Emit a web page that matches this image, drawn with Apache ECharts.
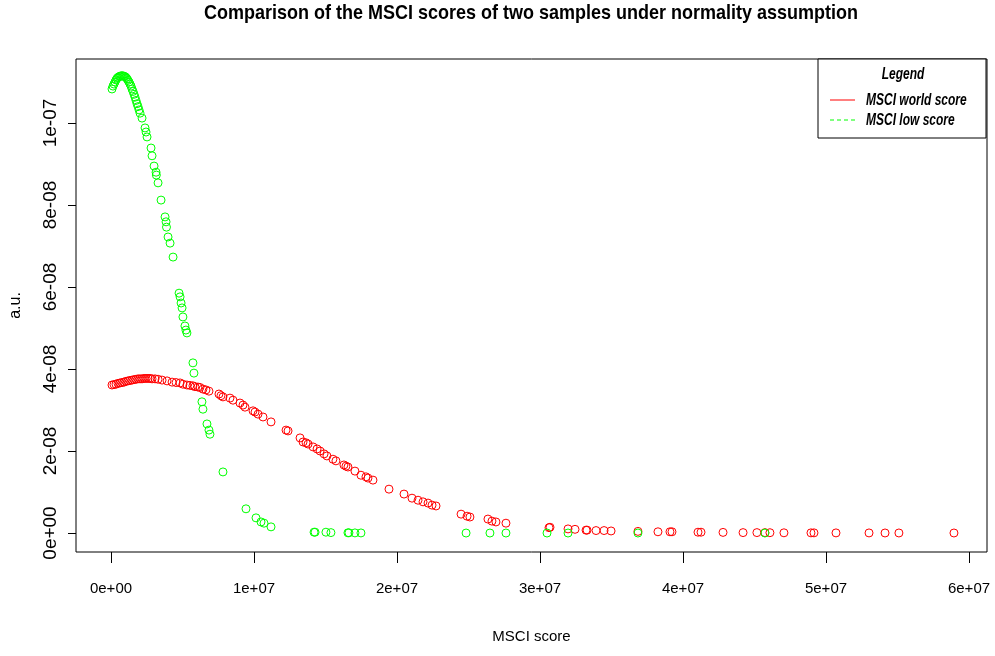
<!DOCTYPE html>
<html><head><meta charset="utf-8">
<script src="https://cdn.jsdelivr.net/npm/echarts@6/dist/echarts.min.js"></script>
<style>html,body{margin:0;padding:0;background:#fff}#c{width:995px;height:656px}</style>
</head><body><div id="c"></div>
<script>
// ---- data ----
const worldScoreX = [0.07e6,0.21e6,0.35e6,0.49e6,0.63e6,0.77e6,0.91e6,1.05e6,1.19e6,1.33e6,1.47e6,1.61e6,1.75e6,1.89e6,2.03e6,2.17e6,2.31e6,2.45e6,2.59e6,2.73e6,2.87e6,3.08e6,3.29e6,3.57e6,3.92e6,4.27e6,4.55e6,4.83e6,5.03e6,5.31e6,5.52e6,5.73e6,5.87e6,6.08e6,6.22e6,6.43e6,6.64e6,6.85e6,7.55e6,7.69e6,7.83e6,8.32e6,8.53e6,9.02e6,9.23e6,9.37e6,9.93e6,10.07e6,10.28e6,10.63e6,11.19e6,12.24e6,12.38e6,13.22e6,13.43e6,13.64e6,13.78e6,14.13e6,14.41e6,14.62e6,14.90e6,15.10e6,15.52e6,15.73e6,16.29e6,16.43e6,16.57e6,17.06e6,17.48e6,17.83e6,17.97e6,18.32e6,19.44e6,20.49e6,21.05e6,21.47e6,21.82e6,22.17e6,22.45e6,22.73e6,24.48e6,24.90e6,25.10e6,26.36e6,26.64e6,26.92e6,27.62e6,30.63e6,30.70e6,31.96e6,32.45e6,33.22e6,33.29e6,33.92e6,34.48e6,34.97e6,36.85e6,38.25e6,39.09e6,39.23e6,41.05e6,41.26e6,42.80e6,44.20e6,45.17e6,45.73e6,46.08e6,47.06e6,48.95e6,49.16e6,50.70e6,53.01e6,54.13e6,55.10e6,58.95e6];
const worldDensity = [3.61e-8,3.62e-8,3.63e-8,3.65e-8,3.66e-8,3.67e-8,3.68e-8,3.70e-8,3.71e-8,3.72e-8,3.73e-8,3.74e-8,3.75e-8,3.76e-8,3.76e-8,3.76e-8,3.77e-8,3.77e-8,3.77e-8,3.77e-8,3.76e-8,3.76e-8,3.75e-8,3.73e-8,3.71e-8,3.68e-8,3.67e-8,3.66e-8,3.63e-8,3.61e-8,3.60e-8,3.59e-8,3.57e-8,3.56e-8,3.55e-8,3.51e-8,3.49e-8,3.46e-8,3.39e-8,3.35e-8,3.32e-8,3.29e-8,3.24e-8,3.17e-8,3.12e-8,3.07e-8,2.98e-8,2.95e-8,2.90e-8,2.83e-8,2.71e-8,2.51e-8,2.49e-8,2.32e-8,2.22e-8,2.20e-8,2.17e-8,2.10e-8,2.05e-8,2.00e-8,1.93e-8,1.88e-8,1.80e-8,1.76e-8,1.66e-8,1.63e-8,1.61e-8,1.51e-8,1.41e-8,1.37e-8,1.34e-8,1.29e-8,1.07e-8,0.95e-8,0.85e-8,0.80e-8,0.76e-8,0.73e-8,0.68e-8,0.66e-8,0.46e-8,0.41e-8,0.39e-8,0.34e-8,0.29e-8,0.27e-8,0.24e-8,0.13e-8,0.14e-8,0.10e-8,0.09e-8,0.07e-8,0.07e-8,0.06e-8,0.06e-8,0.05e-8,0.04e-8,0.03e-8,0.03e-8,0.03e-8,0.02e-8,0.02e-8,0.015e-8,0.01e-8,0.01e-8,0.01e-8,0.008e-8,0.005e-8,0.004e-8,0.004e-8,0.003e-8,0.002e-8,0.001e-8,0.001e-8,0.0005e-8];
const lowScoreX = [0.07e6,0.14e6,0.21e6,0.28e6,0.35e6,0.42e6,0.49e6,0.56e6,0.63e6,0.70e6,0.77e6,0.84e6,0.91e6,0.98e6,1.05e6,1.12e6,1.19e6,1.26e6,1.33e6,1.40e6,1.47e6,1.54e6,1.61e6,1.68e6,1.75e6,1.82e6,1.89e6,1.96e6,2.03e6,2.17e6,2.38e6,2.45e6,2.52e6,2.80e6,2.87e6,3.01e6,3.15e6,3.17e6,3.29e6,3.50e6,3.78e6,3.85e6,3.88e6,3.99e6,4.13e6,4.34e6,4.76e6,4.83e6,4.90e6,4.97e6,5.03e6,5.17e6,5.24e6,5.31e6,5.73e6,5.80e6,6.36e6,6.43e6,6.71e6,6.85e6,6.92e6,7.83e6,9.44e6,10.14e6,10.49e6,10.70e6,11.19e6,14.20e6,14.27e6,15.03e6,15.38e6,16.57e6,16.64e6,17.06e6,17.48e6,24.83e6,26.50e6,27.62e6,30.49e6,31.96e6,36.85e6,45.73e6];
const lowDensity = [10.83e-8,10.90e-8,10.95e-8,11.00e-8,11.05e-8,11.09e-8,11.11e-8,11.13e-8,11.14e-8,11.15e-8,11.15e-8,11.15e-8,11.14e-8,11.13e-8,11.11e-8,11.08e-8,11.04e-8,11.00e-8,10.95e-8,10.90e-8,10.83e-8,10.77e-8,10.70e-8,10.63e-8,10.55e-8,10.47e-8,10.40e-8,10.32e-8,10.24e-8,10.12e-8,9.88e-8,9.78e-8,9.66e-8,9.39e-8,9.20e-8,8.95e-8,8.80e-8,8.73e-8,8.54e-8,8.12e-8,7.71e-8,7.59e-8,7.46e-8,7.22e-8,7.07e-8,6.73e-8,5.85e-8,5.76e-8,5.61e-8,5.49e-8,5.27e-8,5.05e-8,4.95e-8,4.88e-8,4.15e-8,3.90e-8,3.20e-8,3.02e-8,2.66e-8,2.51e-8,2.41e-8,1.49e-8,0.59e-8,0.37e-8,0.27e-8,0.24e-8,0.15e-8,0.02e-8,0.02e-8,0.02e-8,0.01e-8,0.005e-8,0.005e-8,0.003e-8,0.002e-8,0,0,0,0,0,0,0];
const xTickLabels = ['0e+00','1e+07','2e+07','3e+07','4e+07','5e+07','6e+07'];
const yTickLabels = ['0e+00','2e-08','4e-08','6e-08','8e-08','1e-07'];
const seriesNames = ['MSCI world score','MSCI low score'];
const titleText = 'Comparison of the MSCI scores of two samples under normality assumption';

const zip = (a, b) => a.map((v, i) => [v, b[i]]);
const sans = '"Liberation Sans",Arial,sans-serif';
const chart = echarts.init(document.getElementById('c'), null, {renderer: 'canvas'});
const circle = (color) => ({
  type: 'scatter', symbol: 'circle', symbolSize: 8,
  itemStyle: {color: 'rgba(0,0,0,0)', borderColor: color, borderWidth: 1, opacity: 1},
  emphasis: {disabled: true}, silent: true, animation: false, xAxisIndex: 0, yAxisIndex: 0
});
const hiddenAxis = (grid, extra) => Object.assign({gridIndex: grid, type: 'value', show: false, min: 0, max: 1}, extra || {});
const stretchedText = (text, x, y, align, font, sy) => ({
  type: 'text', z: 11, x: x, y: y, scaleY: sy, originX: 0, originY: 0,
  style: {text: text, x: 0, y: 0, align: align, verticalAlign: 'middle', font: font, fill: '#000'}
});
chart.setOption({
  animation: false,
  backgroundColor: '#fff',
  grid: [
    {left: 76, right: 8, top: 59, bottom: 104, show: true, borderColor: '#000', borderWidth: 1, backgroundColor: 'transparent', outerBoundsMode: 'none'},
    {left: 111, right: 26, top: 59, bottom: 104, show: false, outerBoundsMode: 'none'},
    {left: 76, right: 8, top: 123, bottom: 123, show: false, outerBoundsMode: 'none'}
  ],
  xAxis: [
    {gridIndex: 0, type: 'value', min: -2.448e6, max: 6.126e7, axisLine: {show: false}, axisTick: {show: false}, axisLabel: {show: false}, splitLine: {show: false},
      name: 'MSCI score', nameLocation: 'middle', nameGap: 77, nameTextStyle: {fontFamily: sans, fontSize: 15, color: '#000'}},
    {gridIndex: 1, type: 'value', min: 0, max: 6e7, interval: 1e7, position: 'bottom',
      axisLine: {show: false}, splitLine: {show: false},
      axisTick: {show: true, length: 11, lineStyle: {color: '#000', width: 1}},
      axisLabel: {show: true, margin: 29, fontFamily: sans, fontSize: 15, color: '#000', hideOverlap: false, showMinLabel: true, showMaxLabel: true,
        formatter: (v) => xTickLabels[Math.round(v / 1e7)]}},
    hiddenAxis(2)
  ],
  yAxis: [
    {gridIndex: 0, type: 'value', min: -0.463e-8, max: 11.561e-8, axisLine: {show: false}, axisTick: {show: false}, axisLabel: {show: false}, splitLine: {show: false},
      name: 'a.u.', nameLocation: 'middle', nameGap: 52, nameRotate: 90, nameTextStyle: {fontFamily: sans, fontSize: 16, color: '#000'}},
    hiddenAxis(1),
    {gridIndex: 2, type: 'value', min: 0, max: 1e-7, interval: 2e-8, position: 'left',
      axisLine: {show: false}, splitLine: {show: false},
      axisTick: {show: true, length: 8, lineStyle: {color: '#000', width: 1}},
      axisLabel: {show: true, rotate: 90, margin: 16, fontFamily: sans, fontSize: 19, color: '#000', hideOverlap: false, showMinLabel: true, showMaxLabel: true,
        formatter: (v) => yTickLabels[Math.round(v / 2e-8)]}}
  ],
  series: [
    Object.assign(circle('#ff0000'), {name: seriesNames[0], data: zip(worldScoreX, worldDensity)}),
    Object.assign(circle('#00ff00'), {name: seriesNames[1], data: zip(lowScoreX, lowDensity)})
  ],
  graphic: [
    stretchedText(titleText, 531, 14, 'center', 'bold 18px ' + sans, 1.1),
    {type: 'rect', shape: {x: 818, y: 59, width: 168, height: 79}, style: {fill: '#fff', stroke: '#000', lineWidth: 1}, z: 10},
    stretchedText('Legend', 903, 75, 'center', 'italic bold 12px ' + sans, 1.3),
    {type: 'line', z: 11, shape: {x1: 830, y1: 100, x2: 855, y2: 100}, style: {stroke: '#ff0000', lineWidth: 1}},
    {type: 'line', z: 11, shape: {x1: 830, y1: 120, x2: 855, y2: 120}, style: {stroke: '#00ff00', lineWidth: 1, lineDash: [4, 3]}},
    stretchedText(seriesNames[0], 866, 101, 'left', 'italic bold 12px ' + sans, 1.3),
    stretchedText(seriesNames[1], 866, 121, 'left', 'italic bold 12px ' + sans, 1.3)
  ]
});
</script></body></html>
